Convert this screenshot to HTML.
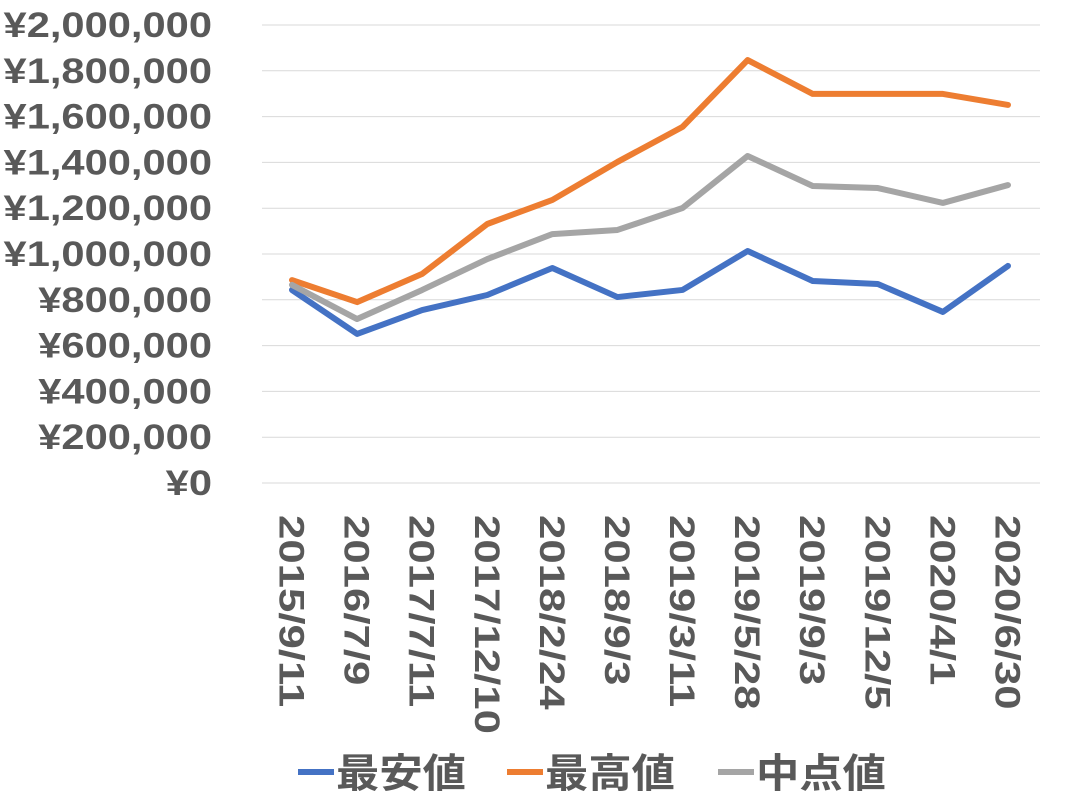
<!DOCTYPE html>
<html><head><meta charset="utf-8"><style>
body{margin:0;background:#fff;}
svg text{font-family:"Liberation Sans","Noto Sans CJK JP",sans-serif;font-weight:bold;fill:#595959;}
</style></head><body>
<svg id="chart" width="1072" height="807" xmlns="http://www.w3.org/2000/svg">
<g id="grid"></g>
<g id="ylabels"></g>
<g id="xlabels"></g>
<g id="lines"></g>
<g id="legend"></g>
</svg>
<script>
const categories=["2015/9/11","2016/7/9","2017/7/11","2017/12/10","2018/2/24","2018/9/3","2019/3/11","2019/5/28","2019/9/3","2019/12/5","2020/4/1","2020/6/30"];
const minValues=[843000,651000,755000,821000,939000,812000,843000,1013000,882000,869000,747000,948000];
const maxValues=[886000,790000,913000,1131000,1236000,1402000,1555000,1847000,1699000,1699000,1699000,1651000];
const midValues=[865000,716000,843000,978000,1087000,1105000,1201000,1428000,1297000,1288000,1223000,1301000];
const yTicks=[0,200000,400000,600000,800000,1000000,1200000,1400000,1600000,1800000,2000000];
const seriesNames=["最安値","最高値","中点値"];
const NS="http://www.w3.org/2000/svg";
const y=v=>483-v/2000000*458;
const x=i=>292+i*65.09;
function mk(t,a,p){const e=document.createElementNS(NS,t);for(const k in a)e.setAttribute(k,a[k]);p.appendChild(e);return e;}
function stretch(t,f){const w=t.getComputedTextLength();t.setAttribute('textLength',w*f);t.setAttribute('lengthAdjust','spacingAndGlyphs');}
const grid=document.getElementById('grid'),yl=document.getElementById('ylabels'),xl=document.getElementById('xlabels'),ln=document.getElementById('lines'),lg=document.getElementById('legend');
yTicks.forEach(v=>{
 const l=mk('line',{x1:262,x2:1040,y1:y(v),y2:y(v),stroke:'#d9d9d9','stroke-width':1},grid);
 
 
 const t=mk('text',{x:212,y:y(v)+12,'text-anchor':'end','font-size':35},yl);
 t.textContent='¥'+v.toLocaleString('en-US');
 
 
 stretch(t,1.19);
});
categories.forEach((c,i)=>{
 const t=mk('text',{x:0,y:0,'font-size':35,transform:`translate(${x(i)-12.5},515) rotate(90)`},xl);
 t.textContent=c;
 
 
 stretch(t,1.25);
});
const colors=["#4472c4","#ed7d31","#a5a5a5"];
[minValues,maxValues,midValues].forEach((s,k)=>{
 const p=mk('polyline',{points:s.map((v,i)=>x(i)+','+y(v)).join(' '),fill:'none',stroke:colors[k],'stroke-width':6,'stroke-linejoin':'round','stroke-linecap':'round'},ln);
 
 
});
const lx=[298,507,718];
seriesNames.forEach((n,k)=>{
 const l=mk('line',{x1:lx[k],x2:lx[k]+36,y1:772,y2:772,stroke:colors[k],'stroke-width':6},lg);
 
 
 const t=mk('text',{x:lx[k]+38,y:787,'font-size':40,textLength:130,lengthAdjust:'spacingAndGlyphs'},lg);
 t.textContent=n;
 
 
});
</script>
</body></html>
